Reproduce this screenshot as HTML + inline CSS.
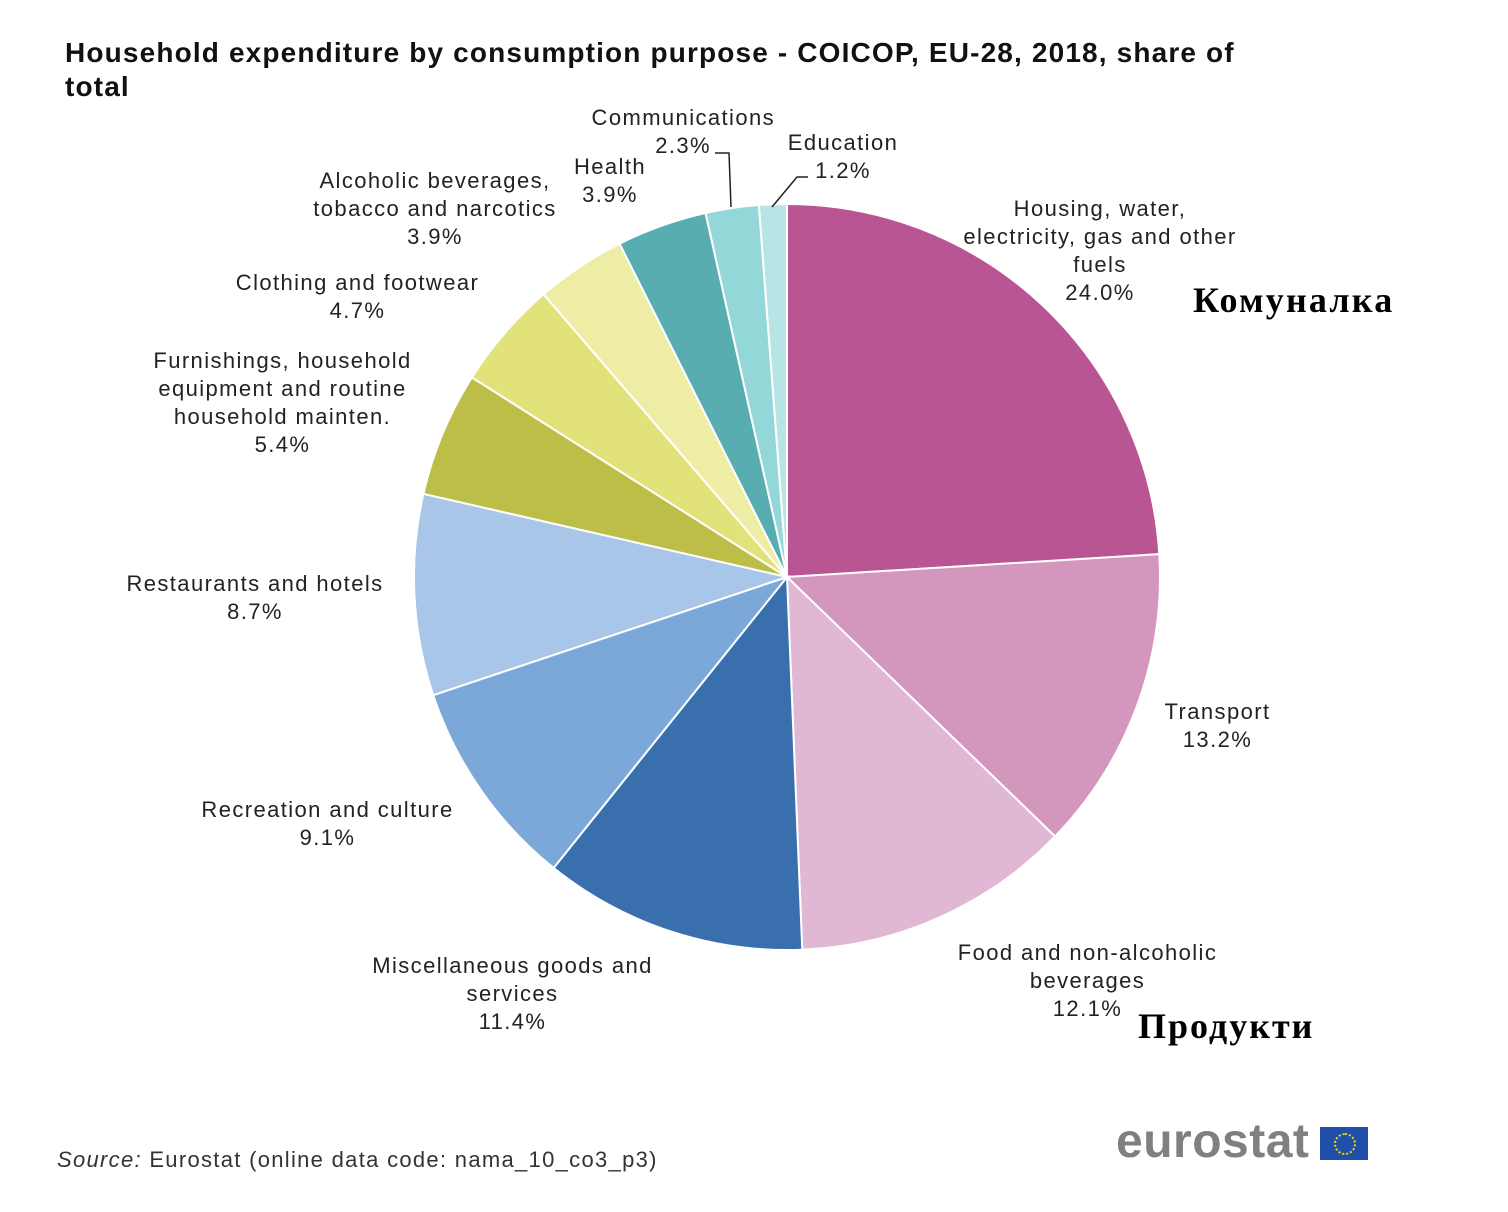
<!DOCTYPE html>
<html><head><meta charset="utf-8"><style>
html,body{margin:0;padding:0;background:#fff;}
body{width:1508px;height:1212px;position:relative;overflow:hidden;font-family:"Liberation Sans",sans-serif;}
.t{position:absolute;font-size:22px;color:#222;text-align:center;line-height:28px;white-space:nowrap;letter-spacing:1.4px;}
</style></head><body>
<div style="position:absolute;left:65px;top:36px;font-size:28px;font-weight:bold;line-height:34px;color:#111;width:1220px;letter-spacing:1.15px;">Household expenditure by consumption purpose - COICOP, EU-28, 2018, share of total</div>
<svg id="pie" width="1508" height="1212" style="position:absolute;left:0;top:0"></svg>
<div class="t" style="left:940px;top:195px;width:320px">Housing, water,<br>electricity, gas and other<br>fuels<br>24.0%</div>
<div class="t" style="left:1140px;top:698px;width:155px">Transport<br>13.2%</div>
<div class="t" style="left:930px;top:939px;width:315px">Food and non-alcoholic<br>beverages<br>12.1%</div>
<div class="t" style="left:340px;top:952px;width:345px">Miscellaneous goods and<br>services<br>11.4%</div>
<div class="t" style="left:170px;top:796px;width:315px">Recreation and culture<br>9.1%</div>
<div class="t" style="left:95px;top:570px;width:320px">Restaurants and hotels<br>8.7%</div>
<div class="t" style="left:125px;top:347px;width:315px">Furnishings, household<br>equipment and routine<br>household mainten.<br>5.4%</div>
<div class="t" style="left:205px;top:269px;width:305px">Clothing and footwear<br>4.7%</div>
<div class="t" style="left:280px;top:167px;width:310px">Alcoholic beverages,<br>tobacco and narcotics<br>3.9%</div>
<div class="t" style="left:560px;top:153px;width:100px">Health<br>3.9%</div>
<div class="t" style="left:560px;top:104px;width:215px;text-align:right">Communications<br><span style="margin-right:64px">2.3%</span></div>
<div class="t" style="left:778px;top:129px;width:130px">Education<br>1.2%</div>
<div style="position:absolute;left:1193px;top:279px;font-family:'Liberation Serif',serif;font-weight:bold;font-size:36px;letter-spacing:2.2px;color:#000">Комуналка</div>
<div style="position:absolute;left:1138px;top:1005px;font-family:'Liberation Serif',serif;font-weight:bold;font-size:36px;letter-spacing:2px;color:#000">Продукти</div>
<div style="position:absolute;left:57px;top:1147px;font-size:22px;color:#333;letter-spacing:1.3px"><i>Source:</i> Eurostat (online data code: nama_10_co3_p3)</div>
<div style="position:absolute;left:1116px;top:1114px;font-size:48px;font-weight:bold;color:#808080;letter-spacing:0.5px">eurostat</div>
<div style="position:absolute;left:1320px;top:1127px;width:48px;height:33px;background:#1f4fa8"><div style="position:absolute;left:14px;top:6px;width:18px;height:18px;border:2px dotted #ffd500;border-radius:50%"></div></div>
<script>
const categories=["Housing","Transport","Food","Misc","Recreation","Restaurants","Furnishings","Clothing","Alcoholic","Health","Communications","Education"];
const values=[24.0,13.2,12.1,11.4,9.1,8.7,5.4,4.7,3.9,3.9,2.3,1.2];
const colors=["#b85592","#d396bc","#e0b8d3","#3a6fae","#7ba7d9","#a9c5e7","#bcbe48","#e2e27a","#ededa5","#58adb0","#93d7d8","#b7e5e6"];
const svg=document.getElementById('pie');const NS="http://www.w3.org/2000/svg";
const cx=787,cy=577,r=373;const total=values.reduce((a,b)=>a+b,0);
let a0=0;
values.forEach((v,i)=>{
 const a1=a0+v/total*2*Math.PI;
 const x0=cx+r*Math.sin(a0),y0=cy-r*Math.cos(a0),x1=cx+r*Math.sin(a1),y1=cy-r*Math.cos(a1);
 const p=document.createElementNS(NS,'path');
 p.setAttribute('d',`M${cx},${cy}L${x0},${y0}A${r},${r} 0 ${a1-a0>Math.PI?1:0} 1 ${x1},${y1}Z`);
 p.setAttribute('fill',colors[i]);p.setAttribute('stroke','#fff');p.setAttribute('stroke-width','2');
 
 
 svg.appendChild(p);a0=a1;
});
const l1=document.createElementNS(NS,'polyline');
l1.setAttribute('points','715,153 729,153 731,207');l1.setAttribute('fill','none');l1.setAttribute('stroke','#222');l1.setAttribute('stroke-width','1.5');


svg.appendChild(l1);
const l2=document.createElementNS(NS,'polyline');
l2.setAttribute('points','808,177 797,177 772,207');l2.setAttribute('fill','none');l2.setAttribute('stroke','#222');l2.setAttribute('stroke-width','1.5');


svg.appendChild(l2);
</script>
</body></html>
